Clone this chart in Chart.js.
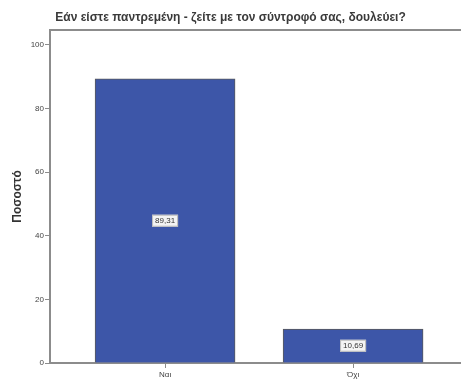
<!DOCTYPE html>
<html>
<head>
<meta charset="utf-8">
<script src="https://cdn.jsdelivr.net/npm/chart.js@4.4.0/dist/chart.umd.min.js"></script>
<style>
  html, body { margin: 0; padding: 0; background: #fff; }
  #wrap { width: 461px; height: 385px; position: relative; }
</style>
</head>
<body>
<div id="wrap"><canvas id="chart"></canvas></div>
<script>
// data
var categories = ['Ναι', 'Όχι'];
var percentValues = [89.31, 10.69];
var yTicks = [0, 20, 40, 60, 80, 100];
var titleText = 'Εάν είστε παντρεμένη - ζείτε με τον σύντροφό σας, δουλεύει?';
var yTitle = 'Ποσοστό';

var axisColor = '#8c8c8c';
var font = '"Liberation Sans", Arial, sans-serif';

// white boxed value labels in the middle of each bar
var barLabels = {
    id: 'barLabels',
    afterDatasetsDraw: function(chart) {
        var ctx = chart.ctx;
        var meta = chart.getDatasetMeta(0);
        ctx.save();
        ctx.font = '8px ' + font;
        ctx.textAlign = 'center';
        ctx.textBaseline = 'middle';
        meta.data.forEach(function(bar, i) {
            var txt = percentValues[i].toFixed(2).replace('.', ',');
            var cy = (bar.y + bar.base) / 2;
            var w = ctx.measureText(txt).width + 6;
            ctx.fillStyle = '#f4f4f4';
            ctx.fillRect(bar.x - w / 2, cy - 6, w, 12);
            ctx.strokeStyle = '#bbbbbb';
            ctx.lineWidth = 1;
            ctx.strokeRect(bar.x - w / 2 + 0.5, cy - 5.5, w - 1, 11);
            ctx.fillStyle = '#333';
            ctx.fillText(txt, bar.x, cy + 0.5);
        });
        ctx.restore();
    }
};

// frame line along the top of the plot area
var topLine = {
    id: 'topLine',
    afterDraw: function(chart) {
        var a = chart.chartArea;
        var ctx = chart.ctx;
        ctx.save();
        ctx.strokeStyle = axisColor;
        ctx.lineWidth = 2;
        ctx.beginPath();
        ctx.moveTo(a.left - 1, a.top);
        ctx.lineTo(chart.width, a.top);
        ctx.stroke();
        ctx.restore();
    }
};

new Chart(document.getElementById('chart').getContext('2d'), {
    type: 'bar',
    data: {
        datasets: [{
            data: percentValues.map(function(v, i) { return { x: i + 1, y: v }; }),
            backgroundColor: '#3d56a8',
            borderColor: '#5a5a5a',
            borderWidth: 1,
            barThickness: 140
        }]
    },
    options: {
        responsive: true,
        maintainAspectRatio: false,
        animation: false,
        layout: { padding: 0 },
        plugins: {
            legend: { display: false },
            tooltip: { enabled: false },
            title: {
                display: true,
                text: titleText,
                color: '#3a3a3a',
                font: { family: font, size: 12, weight: 'bold', lineHeight: 1.2 },
                padding: { top: 10, bottom: 5.6 }
            }
        },
        scales: {
            x: {
                type: 'linear',
                offset: false,
                min: 0.388,
                max: 2.574,
                afterBuildTicks: function(scale) {
                    scale.ticks = categories.map(function(c, i) { return { value: i + 1 }; });
                },
                afterFit: function(scale) { scale.height = 22; },
                ticks: {
                    callback: function(v) { return categories[v - 1]; },
                    color: '#444',
                    font: { family: font, size: 8 },
                    padding: 2,
                    maxRotation: 0
                },
                grid: { display: true, offset: false, drawOnChartArea: false, tickLength: 5, color: axisColor, lineWidth: 1 },
                border: { display: true, color: axisColor, width: 2 }
            },
            y: {
                min: 0,
                max: 104.7,
                afterBuildTicks: function(scale) {
                    scale.ticks = yTicks.map(function(v) { return { value: v }; });
                },
                afterFit: function(scale) { scale.width = 50; },
                ticks: {
                    color: '#444',
                    font: { family: font, size: 8 },
                    padding: 1
                },
                grid: { display: true, drawOnChartArea: false, tickLength: 5, color: axisColor, lineWidth: 1 },
                border: { display: true, color: axisColor, width: 2 },
                title: {
                    display: true,
                    text: yTitle,
                    color: '#333',
                    font: { family: font, size: 12, weight: 'bold' },
                    padding: { top: 10, bottom: 0 }
                }
            }
        }
    },
    plugins: [barLabels, topLine]
});
</script>
</body>
</html>
